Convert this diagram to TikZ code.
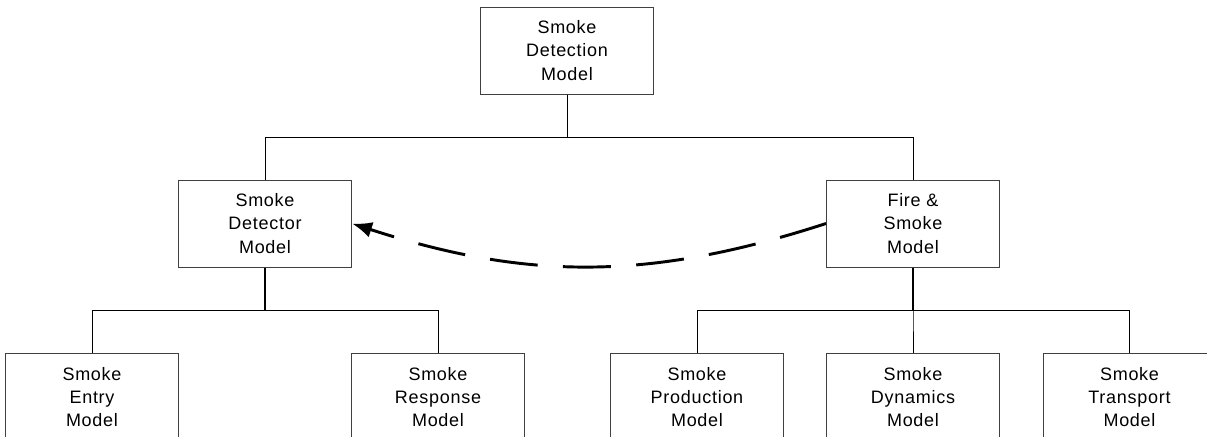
\documentclass[tikz,border=0pt]{standalone}
\usepackage{fontspec}
\setmainfont[LetterSpace=4]{Liberation Sans}
\usetikzlibrary{arrows.meta}

\begin{document}
\begin{tikzpicture}[x=0.75pt, y=-0.75pt,
    model/.style={draw=black!75, line width=0.75pt, fill=white,
                  minimum width=129.75pt, minimum height=65.25pt,
                  inner sep=0pt, align=center,
                  font=\fontsize{13.5}{17.5}\selectfont},
    link/.style={line width=0.75pt},
    feed/.style={line width=2.2pt, dash pattern=on 36pt off 19pt,
                 -{Latex[length=15pt, width=12pt]}}]
    \useasboundingbox (0,0) rectangle (1207,436);
    \clip (0,0) rectangle (1207,436);

    % top level
    \node[model] (top) at (567,50.5) {Smoke\\Detection\\Model};

    % middle level
    \node[model] (det)  at (265,223.5) {Smoke\\Detector\\Model};
    \node[model] (fire) at (913,223.5) {Fire \&\\Smoke\\Model};

    % bottom level
    \node[model] (entry)    at (92,397)    {Smoke\\Entry\\Model};
    \node[model] (response) at (438,397)   {Smoke\\Response\\Model};
    \node[model] (prod)     at (697,397)   {Smoke\\Production\\Model};
    \node[model] (dyn)      at (913,397)   {Smoke\\Dynamics\\Model};
    \node[model] (trans)    at (1129.5,397) {Smoke\\Transport\\Model};

    \foreach \n in {det,fire}
        \draw[link] (top.south) -- ++(0,43) -| (\n.north);
    \foreach \n in {entry,response}
        \draw[link] (det.south) -- ++(0,43) -| (\n.north);
    \foreach \n in {prod,dyn,trans}
        \draw[link] (fire.south) -- ++(0,43) -| (\n.north);
    \draw[line width=1.5pt] (det.south) -- ++(0,43);
    \draw[line width=1.5pt] (fire.south) -- ++(0,43);

    % smoke input to the detector
    \draw[feed] (fire.west) to[bend left=18] (det.east);
\end{tikzpicture}
\end{document}
